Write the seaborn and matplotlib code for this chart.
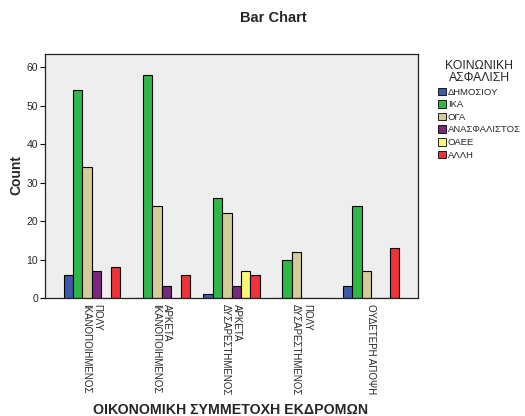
import matplotlib
matplotlib.use("Agg")
import matplotlib.pyplot as plt
import seaborn as sns
import pandas as pd
from matplotlib.patches import Patch

categories = ["ΠΟΛΥ\nΙΚΑΝΟΠΟΙΗΜΕΝΟΣ", "ΑΡΚΕΤΑ\nΙΚΑΝΟΠΟΙΗΜΕΝΟΣ", "ΑΡΚΕΤΑ\nΔΥΣΑΡΕΣΤΗΜΕΝΟΣ",
              "ΠΟΛΥ\nΔΥΣΑΡΕΣΤΗΜΕΝΟΣ", "ΟΥΔΕΤΕΡΗ ΑΠΟΨΗ"]
insurance = ["ΔΗΜΟΣΙΟΥ", "ΙΚΑ", "ΟΓΑ", "ΑΝΑΣΦΑΛΙΣΤΟΣ", "ΟΑΕΕ", "ΑΛΛΗ"]
dimosiou = [6, 0, 1, 0, 3]
ika = [54, 58, 26, 10, 24]
oga = [34, 24, 22, 12, 7]
anasfalistos = [7, 3, 3, 0, 0]
oaee = [0, 0, 7, 0, 0]
alli = [8, 6, 6, 0, 13]
colors = ["#3E58AC", "#2EB848", "#D3CE97", "#79287D", "#FBF873", "#EF3338"]
yticks = [0, 10, 20, 30, 40, 50, 60]

series = [dimosiou, ika, oga, anasfalistos, oaee, alli]
rows = []
for ins, vals in zip(insurance, series):
    for cat, v in zip(categories, vals):
        rows.append({"cat": cat, "ins": ins, "count": v})
df = pd.DataFrame(rows)

sns.set_style("white")
plt.rcParams["font.family"] = ["Liberation Sans", "DejaVu Sans"]

fig = plt.figure(figsize=(5.25, 4.16), dpi=100)
ax = fig.add_axes([45/525, 1-298/416, (418-45)/525, (298-54)/416])
ax.set_facecolor("#EEEEEE")

sns.barplot(data=df, x="cat", y="count", hue="ins", order=categories, hue_order=insurance,
            palette=colors, saturation=1, width=0.81, edgecolor="black", linewidth=0.8,
            errorbar=None, ax=ax, legend=False)

ax.set_xlim(-0.67, 4.67)
ax.set_ylim(0, 63.4)
ax.set_yticks(yticks)
ax.set_yticklabels([str(t) for t in yticks], fontsize=7.5)
ax.set_xticks(range(len(categories)))
ax.set_xticklabels(categories, rotation=270, fontsize=7, ha="center", va="top",
                   multialignment="left", linespacing=1.1)
ax.tick_params(axis="x", direction="out", length=4, width=0.8, color="black", pad=0)
ax.tick_params(axis="y", direction="out", length=3.5, width=0.8, color="black", pad=1.5, left=True)
for s in ax.spines.values():
    s.set_color("#222222")
    s.set_linewidth(0.9)

ax.set_xlabel("")
ax.set_ylabel("")
fig.text(16/525, 1-175/416, "Count", rotation=90, fontsize=10, fontweight="bold",
         ha="center", va="center")
fig.text(231/525, 1-410/416, "ΟΙΚΟΝΟΜΙΚΗ ΣΥΜΜΕΤΟΧΗ ΕΚΔΡΟΜΩΝ", fontsize=10.2, fontweight="bold",
         ha="center", va="center")
fig.text(273/525, 1-18.5/416, "Bar Chart", fontsize=10.5, fontweight="bold",
         ha="center", va="center")

handles = [Patch(facecolor=c, edgecolor="black", linewidth=0.6) for c in colors]
leg = fig.legend(handles, insurance, title="ΚΟΙΝΩΝΙΚΗ\nΑΣΦΑΛΙΣΗ", loc="upper left",
                 bbox_to_anchor=(438/525, 1-60/416), frameon=False, fontsize=6.8,
                 title_fontsize=8.8, handlelength=0.85, handleheight=0.85, handletextpad=0.2,
                 labelspacing=0.38, borderaxespad=0, borderpad=0)
leg.get_title().set_multialignment("center")
leg.get_title().set_linespacing(1.0)

fig.savefig("out.png", dpi=100)
